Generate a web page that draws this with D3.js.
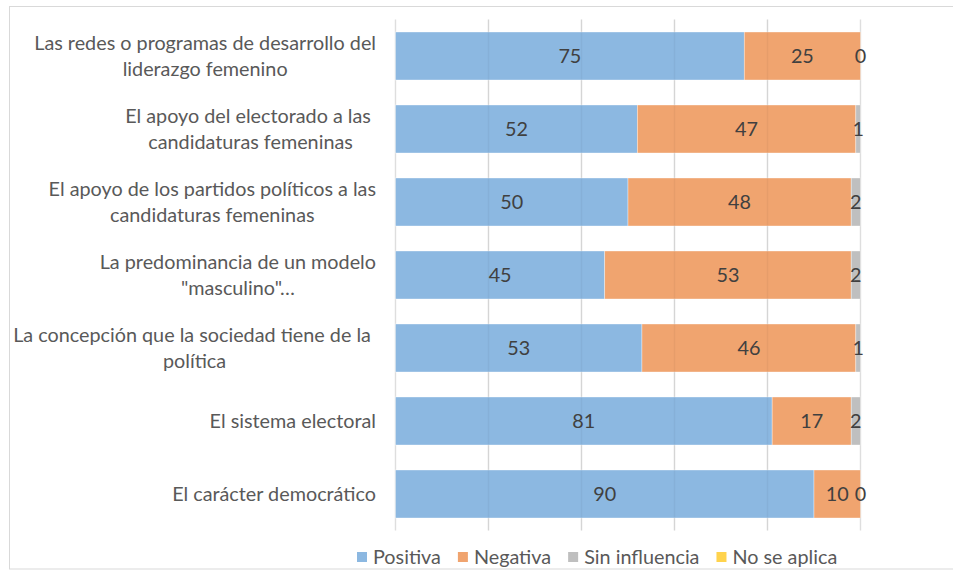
<!DOCTYPE html>
<html><head><meta charset="utf-8">
<script src="https://cdn.jsdelivr.net/npm/d3@7"></script>
<style>html,body{margin:0;padding:0;background:#fff;}svg{display:block;font-family:Lato,"Open Sans",sans-serif;}</style>
</head><body>
<svg id="chart" width="953" height="573"></svg>
<script>
const categories = [
  ["Las redes o programas de desarrollo del", "liderazgo femenino"],
  ["El apoyo del electorado a las\u00a0", "candidaturas femeninas"],
  ["El apoyo de los partidos políticos a las", "candidaturas femeninas"],
  ["La predominancia de un modelo", "\"masculino\"…"],
  ["La concepción que la sociedad tiene de la\u00a0", "política"],
  ["El sistema electoral"],
  ["El carácter democrático"]
];
const seriesNames = ["Positiva", "Negativa", "Sin influencia", "No se aplica"];
const positiva = [75, 52, 50, 45, 53, 81, 90];
const negativa = [25, 47, 48, 53, 46, 17, 10];
const sinInfluencia = [0, 1, 2, 2, 1, 2, 0];
const noSeAplica = [0, 0, 0, 0, 0, 0, 0];
const showLabels = [true, true, true, false];
const colors = ["#8CB8E1", "#F0A46F", "#BFBFBF", "#FFD34D"];
const xTicks = [0, 20, 40, 60, 80, 100];

const svg = d3.select("#chart");
const fontSize = 19.8;

// frame
svg.append("rect").attr("x", 9.5).attr("y", 6.5).attr("width", 960).attr("height", 562.5)
  .attr("fill", "#fff").attr("stroke", "#D9D9D9").attr("stroke-width", 1);

const keys = categories.map((c, i) => i);
const x = d3.scaleLinear().domain([0, 100]).range([395.5, 860.5]);
const y = d3.scaleBand().domain(keys).range([19.5, 530.5]).paddingInner(25 / 73).paddingOuter(12.5 / 73);

const rows = keys.map(i => ({ i, s0: positiva[i], s1: negativa[i], s2: sinInfluencia[i], s3: noSeAplica[i] }));
const stack = d3.stack().keys(["s0", "s1", "s2", "s3"]);
const stacked = stack(rows);

// gridlines behind
svg.append("g").selectAll("line").data(xTicks).join("line")
  .attr("x1", d => x(d)).attr("x2", d => x(d))
  .attr("y1", y.range()[0]).attr("y2", y.range()[1])
  .attr("stroke", "#DEDEDE").attr("stroke-width", 1.4);

// bars
const gBars = svg.append("g");
stacked.forEach((layer, si) => {
  gBars.append("g").selectAll("rect").data(layer).join("rect")
    .attr("x", d => x(d[0]))
    .attr("y", d => y(d.data.i))
    .attr("width", d => x(d[1]) - x(d[0]))
    .attr("height", y.bandwidth())
    .attr("fill", colors[si])
    .attr("stroke", "#fff").attr("stroke-width", 0.6).attr("stroke-opacity", 0.6);
});

// faint gridlines over bars
svg.append("g").selectAll("line").data(xTicks.slice(1, -1)).join("line")
  .attr("x1", d => x(d)).attr("x2", d => x(d))
  .attr("y1", y.range()[0]).attr("y2", y.range()[1])
  .attr("stroke", "#000").attr("stroke-opacity", 0.04).attr("stroke-width", 1.4);

// value labels
const gLab = svg.append("g").attr("font-size", fontSize).attr("fill", "#404040").attr("text-anchor", "middle");
stacked.forEach((layer, si) => {
  if (!showLabels[si]) return;
  gLab.append("g").selectAll("text").data(layer).join("text")
    .attr("x", d => x((d[0] + d[1]) / 2))
    .attr("y", d => y(d.data.i) + y.bandwidth() / 2)
    .attr("dy", "0.35em")
    .text(d => d[1] - d[0]);
});

// category labels
const gCat = svg.append("g").attr("font-size", fontSize).attr("fill", "#595959");
const labelRight = 376;
const lineH = 26;
categories.forEach((lines, i) => {
  const g = gCat.append("g");
  const cy = y(i) + y.bandwidth() / 2;
  const texts = lines.map((ln, j) => g.append("text")
    .attr("y", cy + (j - (lines.length - 1) / 2) * lineH)
    .attr("dy", "0.35em")
    .attr("text-anchor", "middle")
    .text(ln));
  const maxW = d3.max(texts, t => t.node().getComputedTextLength());
  texts.forEach(t => t.attr("x", labelRight - maxW / 2));
});

// legend
const legend = svg.append("g").attr("font-size", fontSize).attr("fill", "#595959");
let lx = 357;
const ly = 557;
seriesNames.forEach((name, si) => {
  legend.append("rect").attr("x", lx).attr("y", ly - 5).attr("width", 10).attr("height", 10).attr("fill", colors[si]);
  const t = legend.append("text").attr("x", lx + 16).attr("y", ly).attr("dy", "0.35em").text(name);
  lx += 16 + t.node().getComputedTextLength() + 17;
});
</script>
</body></html>
